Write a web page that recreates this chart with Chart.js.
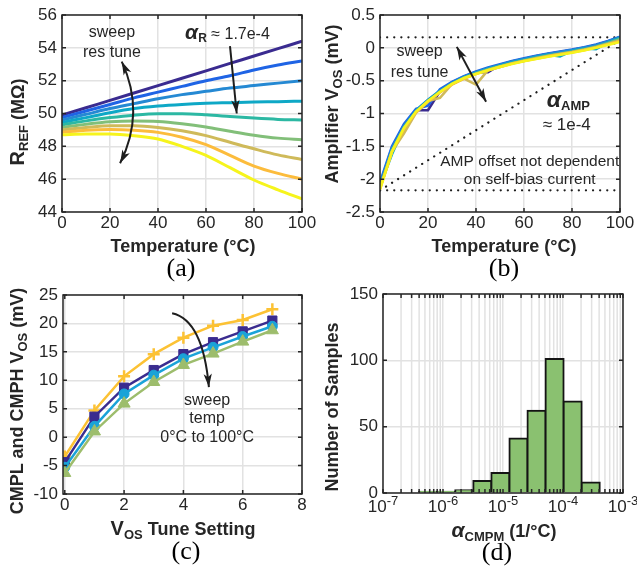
<!DOCTYPE html>
<html>
<head>
<meta charset="utf-8">
<script src="https://cdn.jsdelivr.net/npm/chart.js@4.4.1/dist/chart.umd.min.js"></script>
<style>
  body { margin: 0; background: #fff; }
  #fig { position: relative; width: 637px; height: 574px; overflow: hidden;
         font-family: 'Liberation Sans', Arial, sans-serif; color: #262626; }
  .panel { position: absolute; }
  .t { position: absolute; white-space: nowrap; font-weight: bold; font-size: 18px;
       transform: translate(-50%, -50%); }
  .t.v { transform: translate(-50%, -50%) rotate(-90deg); }
  .s { font-size: 13px; position: relative; top: 4px; }
  .big { font-size: 20px; }
  .al { font-style: italic; font-size: 21px; }
  .cap { position: absolute; transform: translate(-50%, -50%); color: #000;
         font-family: 'Liberation Serif', 'Times New Roman', serif; font-size: 26px; }
</style>
</head>
<body>
<div id="fig">
  <div class="panel" style="left:0;top:0"><canvas id="cA" width="318" height="240"></canvas></div>
  <div class="panel" style="left:318px;top:0"><canvas id="cB" width="319" height="240"></canvas></div>
  <div class="panel" style="left:0;top:280px"><canvas id="cC" width="318" height="240"></canvas></div>
  <div class="panel" style="left:318px;top:280px"><canvas id="cD" width="319" height="240"></canvas></div>

  <div class="t v" style="left:17px;top:122px"><span class="big">R</span><span class="s">REF</span> (MΩ)</div>
  <div class="t" style="left:183px;top:246px">Temperature (°C)</div>
  <div class="t v" style="left:332px;top:104px">Amplifier V<span class="s">OS</span> (mV)</div>
  <div class="t" style="left:504px;top:246px">Temperature (°C)</div>
  <div class="t v" style="left:17px;top:401px">CMPL and CMPH V<span class="s">OS</span> (mV)</div>
  <div class="t" style="left:183px;top:528px"><span class="big">V</span><span class="s">OS</span> Tune Setting</div>
  <div class="t v" style="left:332px;top:407px">Number of Samples</div>
  <div class="t" style="left:504px;top:530px"><span class="al">α</span><span class="s">CMPM</span> (1/°C)</div>

  <div class="cap" style="left:181px;top:268px">(a)</div>
  <div class="cap" style="left:504px;top:268px">(b)</div>
  <div class="cap" style="left:186px;top:551px">(c)</div>
  <div class="cap" style="left:497px;top:552px">(d)</div>
</div>
<script>
const INK = '#262626';
const GRID = '#e2e2e2';
const FONT = "'Liberation Sans', Arial, sans-serif";
const tickFont = { family: FONT, size: 17 };

// (a) reference resistance over temperature, one curve per res tune code
const tempA = [0, 10, 20, 30, 40, 50, 60, 70, 80, 90, 100];
const resTune = [
  [49.90, 50.35, 50.80, 51.25, 51.70, 52.15, 52.60, 53.05, 53.50, 53.95, 54.40],
  [49.75, 50.15, 50.55, 50.95, 51.30, 51.65, 52.00, 52.30, 52.65, 52.95, 53.20],
  [49.60, 49.95, 50.30, 50.60, 50.90, 51.15, 51.35, 51.55, 51.70, 51.85, 52.00],
  [49.45, 49.75, 50.05, 50.30, 50.45, 50.55, 50.62, 50.66, 50.70, 50.72, 50.75],
  [49.30, 49.55, 49.75, 49.90, 49.98, 49.98, 49.92, 49.82, 49.72, 49.64, 49.60],
  [49.15, 49.35, 49.50, 49.55, 49.52, 49.38, 49.18, 48.92, 48.68, 48.50, 48.40],
  [49.00, 49.15, 49.25, 49.25, 49.15, 48.95, 48.65, 48.25, 47.85, 47.48, 47.20],
  [48.85, 48.98, 49.02, 48.98, 48.85, 48.55, 48.10, 47.45, 46.80, 46.35, 46.00],
  [48.70, 48.75, 48.75, 48.65, 48.45, 48.00, 47.45, 46.70, 45.95, 45.35, 44.80]
];
const parula9 = ['#3a2b90', '#1f64e5', '#2589d3', '#0ea8c6', '#2cb8a3',
                 '#82bf79', '#cfba5a', '#fcbc3c', '#f6f41c'];

// (b) amplifier offset over temperature for the same res tune codes
const tempB = [0, 5, 10, 15, 20, 25, 30, 35, 40, 45, 50, 55, 60, 65, 70, 75, 80, 85, 90, 95, 100];
const ampVos = [
  [-2.12, -1.53, -1.18, -0.95, -0.95, -0.66, -0.53, -0.44, -0.37, -0.37, -0.26, -0.21, -0.17, -0.13, -0.095, -0.065, -0.035, 0.00, 0.04, 0.095, 0.16],
  [-2.05, -1.50, -1.16, -0.93, -0.88, -0.63, -0.52, -0.43, -0.36, -0.30, -0.25, -0.20, -0.16, -0.12, -0.085, -0.055, -0.025, 0.01, 0.05, 0.105, 0.17],
  [-2.08, -1.53, -1.19, -0.95, -0.79, -0.65, -0.53, -0.44, -0.37, -0.31, -0.26, -0.21, -0.17, -0.13, -0.095, -0.065, -0.035, 0.00, 0.04, 0.095, 0.16],
  [-2.10, -1.62, -1.21, -0.96, -0.80, -0.66, -0.54, -0.45, -0.38, -0.32, -0.27, -0.22, -0.18, -0.14, -0.105, -0.13, -0.045, -0.01, -0.02, 0.085, 0.15],
  [-2.12, -1.56, -1.21, -0.97, -0.81, -0.67, -0.55, -0.46, -0.39, -0.33, -0.28, -0.23, -0.19, -0.15, -0.115, -0.085, -0.055, -0.02, 0.02, 0.075, 0.14],
  [-2.13, -1.57, -1.22, -0.98, -0.82, -0.67, -0.55, -0.46, -0.39, -0.33, -0.28, -0.235, -0.195, -0.155, -0.12, -0.09, -0.06, -0.025, 0.015, 0.07, 0.13],
  [-2.14, -1.58, -1.30, -0.99, -0.81, -0.76, -0.55, -0.47, -0.56, -0.34, -0.29, -0.24, -0.20, -0.16, -0.125, -0.095, -0.065, -0.03, 0.01, 0.06, 0.11],
  [-2.15, -1.58, -1.23, -0.98, -0.82, -0.68, -0.56, -0.47, -0.40, -0.34, -0.29, -0.24, -0.20, -0.165, -0.13, -0.10, -0.07, -0.035, 0.005, 0.055, 0.10],
  [-2.16, -1.58, -1.22, -0.97, -0.81, -0.67, -0.55, -0.46, -0.40, -0.34, -0.29, -0.245, -0.205, -0.17, -0.135, -0.105, -0.075, -0.04, 0.00, 0.045, 0.09]
];
// dotted guide lines at the two temperature extremes
const refX = [0, 100];
const refTop = [0.16, 0.16];
const refBottom = [-2.17, -2.17];
const refDiag = [-2.17, 0.12];

// (c) comparator offset vs tune setting, 0°C .. 100°C
const vosSetting = [0, 1, 2, 3, 4, 5, 6, 7];
const cmpTemps = ['0°C', '33°C', '67°C', '100°C'];
const cmpVos = [
  [-3.4, 4.7, 10.7, 14.6, 17.5, 19.6, 20.6, 22.5],
  [-4.4, 3.6, 8.7, 11.8, 14.6, 16.7, 18.6, 20.5],
  [-5.3, 1.9, 7.6, 10.9, 13.8, 15.8, 17.7, 19.5],
  [-6.3, 1.0, 5.9, 9.7, 12.7, 14.7, 16.8, 18.8]
];
const cmpColors = ['#fcc234', '#3a2c8f', '#1aa3d8', '#9dbd6c'];
const cmpMarkers = ['cross', 'rect', 'circle', 'triangle'];
const cmpSizes = [6, 6.5, 5, 7];

// (d) histogram of alpha_CMPM, log-spaced bins
const binEdges = [4e-7, 8e-7, 1.6e-6, 3.2e-6, 6.4e-6, 1.28e-5, 2.56e-5, 5.12e-5, 1.024e-4, 2.048e-4, 4.096e-4];
const binCounts = [1, 1, 2, 9, 15, 41, 62, 101, 69, 8];
const decades = [-7, -6, -5, -4, -3];

function xAxis(min, max, ticks, height) {
  return {
    type: 'linear', min, max, offset: false,
    afterBuildTicks: s => { s.ticks = ticks.map(v => ({ value: v })); },
    afterFit: s => { s.height = height; s.paddingLeft = 0; s.paddingRight = 0; },
    grid: { color: GRID, lineWidth: 1.5, drawTicks: false, offset: false },
    border: { display: false },
    ticks: { font: tickFont, color: INK, padding: 1, maxRotation: 0, autoSkip: false, callback: v => String(v) }
  };
}

function yAxis(min, max, ticks, width) {
  return {
    type: 'linear', min, max,
    afterBuildTicks: s => { s.ticks = ticks.map(v => ({ value: v })); },
    afterFit: s => { s.width = width; s.paddingTop = 0; s.paddingBottom = 0; },
    grid: { color: GRID, lineWidth: 1.5, drawTicks: false },
    border: { display: false },
    ticks: { font: tickFont, color: INK, padding: 5, autoSkip: false, callback: v => String(v) }
  };
}

// black box with short inward tick marks on all four sides
function frame(minorX) {
  return {
    id: 'frame',
    afterDatasetsDraw(chart) {
      const { ctx, chartArea: a, scales } = chart;
      const len = 4;
      ctx.save();
      ctx.strokeStyle = INK;
      ctx.lineWidth = 1.5;
      ctx.beginPath();
      const xs = scales.x.ticks.map(t => t.value).concat(minorX || []);
      for (const v of xs) {
        const p = scales.x.getPixelForValue(v);
        ctx.moveTo(p, a.bottom); ctx.lineTo(p, a.bottom - len);
        ctx.moveTo(p, a.top); ctx.lineTo(p, a.top + len);
      }
      for (const t of scales.y.ticks) {
        const p = scales.y.getPixelForValue(t.value);
        ctx.moveTo(a.left, p); ctx.lineTo(a.left + len, p);
        ctx.moveTo(a.right, p); ctx.lineTo(a.right - len, p);
      }
      ctx.stroke();
      ctx.strokeRect(a.left, a.top, a.width, a.height);
      ctx.restore();
    }
  };
}

function arrowHead(ctx, x, y, ang, size) {
  const w = 0.3;
  ctx.beginPath();
  ctx.moveTo(x, y);
  ctx.lineTo(x - size * Math.cos(ang - w), y - size * Math.sin(ang - w));
  ctx.lineTo(x - size * 0.7 * Math.cos(ang), y - size * 0.7 * Math.sin(ang));
  ctx.lineTo(x - size * Math.cos(ang + w), y - size * Math.sin(ang + w));
  ctx.closePath();
  ctx.fill();
}

// quadratic arrow from p0 to p1 bent through control c; heads at 'end' or 'both'
function bentArrow(ctx, p0, c, p1, heads) {
  ctx.save();
  ctx.strokeStyle = '#1e1e1e';
  ctx.fillStyle = '#1e1e1e';
  ctx.lineWidth = 2;
  ctx.beginPath();
  ctx.moveTo(p0.x, p0.y);
  ctx.quadraticCurveTo(c.x, c.y, p1.x, p1.y);
  ctx.stroke();
  arrowHead(ctx, p1.x, p1.y, Math.atan2(p1.y - c.y, p1.x - c.x), 14);
  if (heads === 'both') arrowHead(ctx, p0.x, p0.y, Math.atan2(p0.y - c.y, p0.x - c.x), 14);
  ctx.restore();
}

// text made of differently styled pieces, e.g. symbol + subscript
function textRuns(ctx, x, y, parts, center) {
  let w = 0;
  for (const p of parts) { ctx.font = p[1]; w += ctx.measureText(p[0]).width; }
  let cx = center ? x - w / 2 : x;
  ctx.textAlign = 'left';
  ctx.textBaseline = 'alphabetic';
  for (const p of parts) {
    ctx.font = p[1];
    ctx.fillText(p[0], cx, y + (p[2] || 0));
    cx += ctx.measureText(p[0]).width;
  }
}

function note(ctx, text, x, y, size) {
  ctx.font = (size || 16) + 'px ' + FONT;
  ctx.textAlign = 'center';
  ctx.textBaseline = 'middle';
  ctx.fillText(text, x, y);
}

function pt(chart, x, y) {
  return { x: chart.scales.x.getPixelForValue(x), y: chart.scales.y.getPixelForValue(y) };
}

const base = {
  responsive: false,
  animation: false,
  plugins: { legend: { display: false }, tooltip: { enabled: false } }
};

// ---------- (a)
new Chart(document.getElementById('cA'), {
  type: 'line',
  data: {
    datasets: resTune.map((vals, i) => ({
      data: vals.map((v, j) => ({ x: tempA[j], y: v })),
      borderColor: parula9[i], borderWidth: 3, pointRadius: 0,
      cubicInterpolationMode: 'monotone', order: resTune.length - i
    }))
  },
  options: Object.assign({}, base, {
    layout: { padding: { left: 0, right: 16, top: 15, bottom: 0 } },
    scales: {
      x: xAxis(0, 100, [0, 20, 40, 60, 80, 100], 28),
      y: yAxis(44, 56, [44, 46, 48, 50, 52, 54, 56], 62)
    }
  }),
  plugins: [frame(), {
    id: 'notesA',
    afterDraw(chart) {
      const ctx = chart.ctx;
      ctx.save();
      ctx.fillStyle = INK;
      let p = pt(chart, 20.8, 54.9); note(ctx, 'sweep', p.x, p.y);
      p = pt(chart, 20.8, 53.7); note(ctx, 'res tune', p.x, p.y);
      bentArrow(ctx, pt(chart, 24.9, 53.16), pt(chart, 34.8, 50.06), pt(chart, 24.2, 46.97), 'both');
      p = pt(chart, 51.3, 54.55);
      ctx.fillStyle = INK;
      textRuns(ctx, p.x, p.y, [
        ['α', 'bold italic 21px ' + FONT],
        ['R', 'bold 12px ' + FONT, 3],
        [' ≈ 1.7e-4', '16px ' + FONT]
      ]);
      bentArrow(ctx, pt(chart, 70, 54.1), pt(chart, 71.4, 52.0), pt(chart, 72.8, 50.0), 'end');
      ctx.restore();
    }
  }]
});

// ---------- (b)
const guide = ys => ({
  data: ys.map((v, j) => ({ x: refX[j], y: v })),
  borderColor: '#1e1e1e', borderWidth: 2.2, borderDash: [0.1, 7], borderCapStyle: 'round',
  pointRadius: 0, order: 20
});
new Chart(document.getElementById('cB'), {
  type: 'line',
  data: {
    datasets: [guide(refTop), guide(refBottom), guide(refDiag)].concat(ampVos.map((vals, i) => ({
      data: vals.map((v, j) => ({ x: tempB[j], y: v })),
      borderColor: parula9[i], borderWidth: 2.6, pointRadius: 0, order: ampVos.length - i
    })))
  },
  options: Object.assign({}, base, {
    layout: { padding: { left: 0, right: 17, top: 15, bottom: 0 } },
    scales: {
      x: xAxis(0, 100, [0, 20, 40, 60, 80, 100], 28),
      y: yAxis(-2.5, 0.5, [-2.5, -2, -1.5, -1, -0.5, 0, 0.5], 62)
    }
  }),
  plugins: [frame(), {
    id: 'notesB',
    afterDraw(chart) {
      const ctx = chart.ctx;
      ctx.save();
      ctx.fillStyle = INK;
      let p = pt(chart, 16.5, -0.06); note(ctx, 'sweep', p.x, p.y);
      p = pt(chart, 16.5, -0.37); note(ctx, 'res tune', p.x, p.y);
      const a0 = pt(chart, 32, 0.015), a1 = pt(chart, 44.2, -0.82);
      bentArrow(ctx, a0, { x: (a0.x + a1.x) / 2, y: (a0.y + a1.y) / 2 }, a1, 'both');
      p = pt(chart, 69.5, -0.9);
      ctx.fillStyle = INK;
      textRuns(ctx, p.x, p.y, [
        ['α', 'bold italic 23px ' + FONT],
        ['AMP', 'bold 13px ' + FONT, 3]
      ]);
      p = pt(chart, 77.8, -1.175); note(ctx, '≈ 1e-4', p.x, p.y, 17);
      p = pt(chart, 62.4, -1.74); note(ctx, 'AMP offset not dependent', p.x, p.y, 15.5);
      p = pt(chart, 62.4, -2.01); note(ctx, 'on self-bias current', p.x, p.y, 15.5);
      ctx.restore();
    }
  }]
});

// ---------- (c)
new Chart(document.getElementById('cC'), {
  type: 'line',
  data: {
    datasets: cmpVos.map((vals, i) => ({
      label: cmpTemps[i],
      data: vals.map((v, j) => ({ x: vosSetting[j], y: v })),
      borderColor: cmpColors[i], backgroundColor: cmpColors[i], borderWidth: 2.5,
      pointStyle: cmpMarkers[i], pointRadius: cmpSizes[i], pointBorderWidth: i === 0 ? 2.5 : 1,
      pointBackgroundColor: cmpColors[i], pointBorderColor: cmpColors[i],
      order: cmpVos.length - i
    }))
  },
  options: Object.assign({}, base, {
    layout: { padding: { left: 0, right: 16, top: 15, bottom: 0 } },
    scales: {
      x: xAxis(-0.06, 8, [0, 2, 4, 6, 8], 26),
      y: yAxis(-10, 25, [-10, -5, 0, 5, 10, 15, 20, 25], 63)
    }
  }),
  plugins: [frame(), {
    id: 'notesC',
    afterDraw(chart) {
      const ctx = chart.ctx;
      ctx.save();
      bentArrow(ctx, pt(chart, 3.62, 21.8), pt(chart, 4.66, 20.6), pt(chart, 4.86, 8.8), 'end');
      ctx.fillStyle = INK;
      let p = pt(chart, 4.8, 6.5); note(ctx, 'sweep', p.x, p.y);
      p = pt(chart, 4.8, 3.3); note(ctx, 'temp', p.x, p.y);
      p = pt(chart, 4.8, -0.1); note(ctx, '0°C to 100°C', p.x, p.y);
      ctx.restore();
    }
  }]
});

// ---------- (d)
const minorD = [];
for (const e of decades.slice(0, -1)) {
  for (let m = 2; m <= 9; m++) minorD.push(e + Math.log10(m));
}
new Chart(document.getElementById('cD'), {
  type: 'bar',
  data: {
    datasets: [{
      data: binCounts.map((c, i) => ({
        x: (Math.log10(binEdges[i]) + Math.log10(binEdges[i + 1])) / 2, y: c
      })),
      backgroundColor: '#8ac170', borderColor: '#141414', borderWidth: 2,
      inflateAmount: 1, barPercentage: 1, categoryPercentage: 1, borderSkipped: 'start'
    }]
  },
  options: Object.assign({}, base, {
    layout: { padding: { left: 0, right: 14, top: 14, bottom: 0 } },
    scales: {
      x: Object.assign(xAxis(-7, -3, decades, 27), {
        ticks: { display: false }
      }),
      y: yAxis(0, 150, [0, 50, 100, 150], 65)
    }
  }),
  plugins: [{
    id: 'minorGrid',
    beforeDatasetsDraw(chart) {
      const { ctx, chartArea: a, scales } = chart;
      ctx.save();
      ctx.strokeStyle = GRID;
      ctx.lineWidth = 1.5;
      ctx.beginPath();
      for (const v of minorD) {
        const p = scales.x.getPixelForValue(v);
        ctx.moveTo(p, a.top); ctx.lineTo(p, a.bottom);
      }
      ctx.stroke();
      ctx.restore();
    },
    afterDraw(chart) {
      // decade labels as 10 with a raised exponent
      const { ctx, chartArea: a, scales } = chart;
      ctx.save();
      ctx.fillStyle = INK;
      for (const e of decades) {
        const p = scales.x.getPixelForValue(e);
        textRuns(ctx, p, a.bottom + 19, [
          ['10', '17px ' + FONT],
          [String(e), '13px ' + FONT, -7]
        ], true);
      }
      ctx.restore();
    }
  }, frame(minorD)]
});
</script>
</body>
</html>
